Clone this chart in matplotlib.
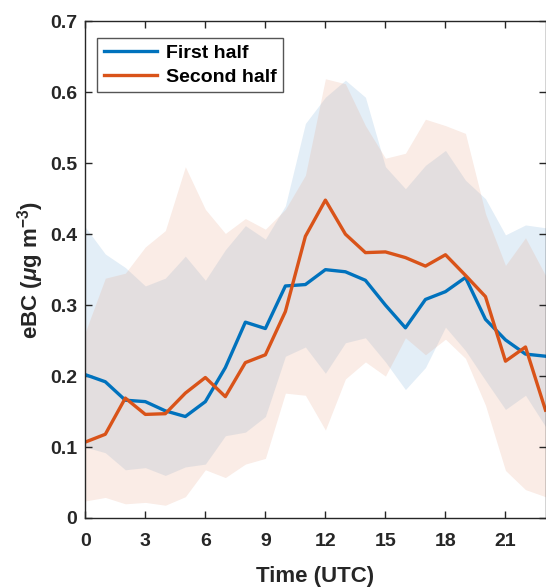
import matplotlib
matplotlib.use("Agg")
import matplotlib.pyplot as plt
import numpy as np

hours = list(range(24))
first_mean = [0.202, 0.192, 0.166, 0.164, 0.151, 0.143, 0.164, 0.212, 0.276, 0.267,
              0.327, 0.329, 0.350, 0.347, 0.335, 0.300, 0.268, 0.308, 0.319, 0.339,
              0.280, 0.251, 0.231, 0.228]
second_mean = [0.107, 0.118, 0.169, 0.146, 0.147, 0.176, 0.198, 0.171, 0.219, 0.230,
               0.291, 0.397, 0.448, 0.400, 0.374, 0.375, 0.367, 0.355, 0.371, 0.342,
               0.312, 0.221, 0.241, 0.152]
first_upper = [0.410, 0.372, 0.353, 0.327, 0.338, 0.369, 0.335, 0.378, 0.412, 0.393,
               0.440, 0.556, 0.593, 0.617, 0.593, 0.495, 0.464, 0.497, 0.518, 0.476,
               0.450, 0.399, 0.413, 0.409]
first_lower = [0.100, 0.092, 0.068, 0.071, 0.060, 0.072, 0.076, 0.116, 0.121, 0.143,
               0.228, 0.241, 0.204, 0.247, 0.254, 0.220, 0.181, 0.212, 0.269, 0.236,
               0.194, 0.153, 0.173, 0.129]
second_upper = [0.262, 0.338, 0.345, 0.382, 0.405, 0.495, 0.435, 0.401, 0.422, 0.407,
                0.435, 0.483, 0.619, 0.612, 0.553, 0.507, 0.514, 0.562, 0.553, 0.542,
                0.429, 0.356, 0.395, 0.342]
second_lower = [0.024, 0.029, 0.020, 0.022, 0.018, 0.030, 0.068, 0.057, 0.076, 0.084,
                0.176, 0.173, 0.124, 0.196, 0.220, 0.200, 0.254, 0.230, 0.252, 0.225,
                0.159, 0.067, 0.040, 0.030]
xticks = [0, 3, 6, 9, 12, 15, 18, 21]
yticks = [0, 0.1, 0.2, 0.3, 0.4, 0.5, 0.6, 0.7]

plt.rcParams['font.family'] = ['Liberation Sans', 'DejaVu Sans']
plt.rcParams['mathtext.fontset'] = 'custom'
plt.rcParams['mathtext.it'] = 'Liberation Sans:italic:bold'
plt.rcParams['mathtext.rm'] = 'Liberation Sans:bold'

fig = plt.figure(figsize=(5.46, 5.87), dpi=100)
ax = fig.add_axes([85.3 / 546, 69 / 587, 460.2 / 546, 496.7 / 587])

c_blue = '#0072BD'
c_orange = '#D95319'

ax.fill_between(hours, first_lower, first_upper, color=(68/255, 142/255, 202/255),
                alpha=0.15, linewidth=0)
ax.fill_between(hours, second_lower, second_upper, color=(230/255, 160/255, 130/255),
                alpha=0.2, linewidth=0)
ax.plot(hours, first_mean, color=c_blue, lw=2.4, label='First half')
ax.plot(hours, second_mean, color=c_orange, lw=2.4, label='Second half')

ax.set_xlim(0, 23)
ax.set_ylim(0, 0.7)
ax.set_xticks(xticks)
ax.set_yticks(yticks)
ax.set_xticklabels([str(t) for t in xticks])
ax.set_yticklabels(['0'] + [f'{t:.1f}' for t in yticks[1:]])
ax.tick_params(direction='in', length=5, width=1, labelsize=14, top=True, right=True,
               colors='#262626')
ax.tick_params(axis='x', pad=11)
ax.tick_params(axis='y', pad=6)
for lab in ax.get_xticklabels() + ax.get_yticklabels():
    lab.set_fontweight('bold')
for s in ax.spines.values():
    s.set_color('#262626')
    s.set_linewidth(1)

ax.set_xlabel('Time (UTC)', fontsize=16, fontweight='bold', color='#262626', labelpad=11)
ax.set_ylabel(r'eBC ($\mu$g m$^{-3}$)', fontsize=16, fontweight='bold', color='#262626',
              labelpad=3)

leg = ax.legend(loc='upper left', bbox_to_anchor=(0.025, 0.967), borderaxespad=0,
                fancybox=False, framealpha=1, edgecolor='#555555',
                prop={'weight': 'bold', 'size': 14}, handlelength=2.75,
                handletextpad=0.45, borderpad=0.35, labelspacing=0.3)
leg.get_frame().set_linewidth(1)

fig.savefig('out.png', dpi=100)
